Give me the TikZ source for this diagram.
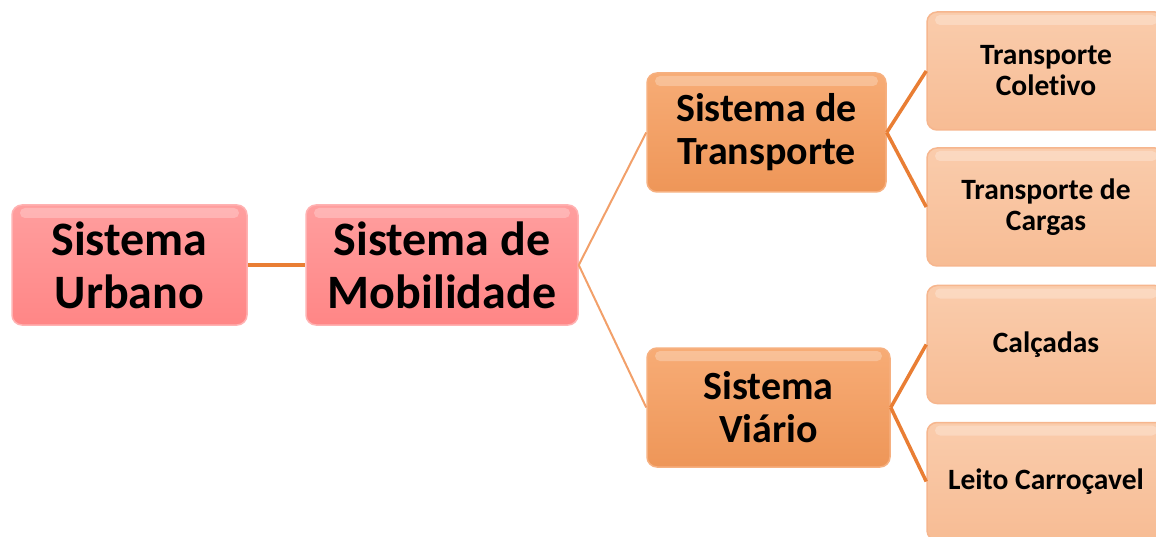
\documentclass[tikz,border=0pt]{standalone}
\usepackage{fontspec}
\setmainfont{Carlito}[Ligatures=NoCommon]
\usetikzlibrary{calc}

\definecolor{urbtop}{RGB}{255,158,158}
\definecolor{urbbot}{RGB}{255,134,134}
\definecolor{urbline}{RGB}{255,178,178}
\definecolor{sectop}{RGB}{247,172,118}
\definecolor{secbot}{RGB}{238,150,88}
\definecolor{secline}{RGB}{246,176,128}
\definecolor{leaftop}{RGB}{250,204,172}
\definecolor{leafbot}{RGB}{247,188,148}
\definecolor{leafline}{RGB}{246,182,142}
\definecolor{linkdark}{RGB}{233,126,52}
\definecolor{linklight}{RGB}{242,160,106}

\begin{document}
\begin{tikzpicture}[x=1pt, y=-1pt,
    box/.style={rounded corners=10pt, align=center, inner sep=0pt, line width=1.5pt,
        path picture={\fill[white, opacity=.25, rounded corners=5pt]
            ([xshift=8pt, yshift=-3pt]path picture bounding box.north west) rectangle
            ([xshift=-8pt, yshift=-13pt]path picture bounding box.north east);}},
    urbbox/.style={box, draw=urbline, top color=urbtop, bottom color=urbbot,
        font=\fontsize{48}{53}\selectfont\bfseries},
    secbox/.style={box, draw=secline, top color=sectop, bottom color=secbot,
        font=\fontsize{40}{43}\selectfont\bfseries},
    leafbox/.style={box, draw=leafline, top color=leaftop, bottom color=leafbot,
        minimum width=238pt, minimum height=118pt,
        font=\fontsize{29.5}{31}\selectfont\bfseries},
    thicklink/.style={draw=linkdark, line width=3.5pt},
    thinlink/.style={draw=linklight, line width=2pt}]
        \useasboundingbox (0,0) rectangle (1156,537);

        % Level 1.
        \node[urbbox, minimum width=235pt, minimum height=120pt] (urb) at (129.5,265) {Sistema\\Urbano};
        \node[urbbox, minimum width=272pt, minimum height=120pt] (mob) at (442,265) {Sistema de\\Mobilidade};

        % Level 2.
        \node[secbox, minimum width=239pt, minimum height=119pt] (trans) at (766.5,132.5) {Sistema de\\Transporte};
        \node[secbox, minimum width=243pt, minimum height=119pt] (viario) at (768.5,407.5) {Sistema\\Viário};

        % Level 3.
        \node[leafbox] (colet) at (1046,71) {Transporte\\Coletivo};
        \node[leafbox] (cargas) at (1046,207) {Transporte de\\Cargas};
        \node[leafbox] (calc) at (1046,344.5) {Calçadas};
        \node[leafbox] (leito) at (1046,481.5) {Leito Carroçavel};

        % Links.
        \draw[thicklink] (urb.east) -- (mob.west);
        \draw[thinlink] (mob.east) -- (trans.west);
        \draw[thinlink] (mob.east) -- (viario.west);
        \draw[thicklink] (trans.east) -- (colet.west);
        \draw[thicklink] (trans.east) -- (cargas.west);
        \draw[thicklink] (viario.east) -- (calc.west);
        \draw[thicklink] (viario.east) -- (leito.west);

    \end{tikzpicture}
\end{document}
